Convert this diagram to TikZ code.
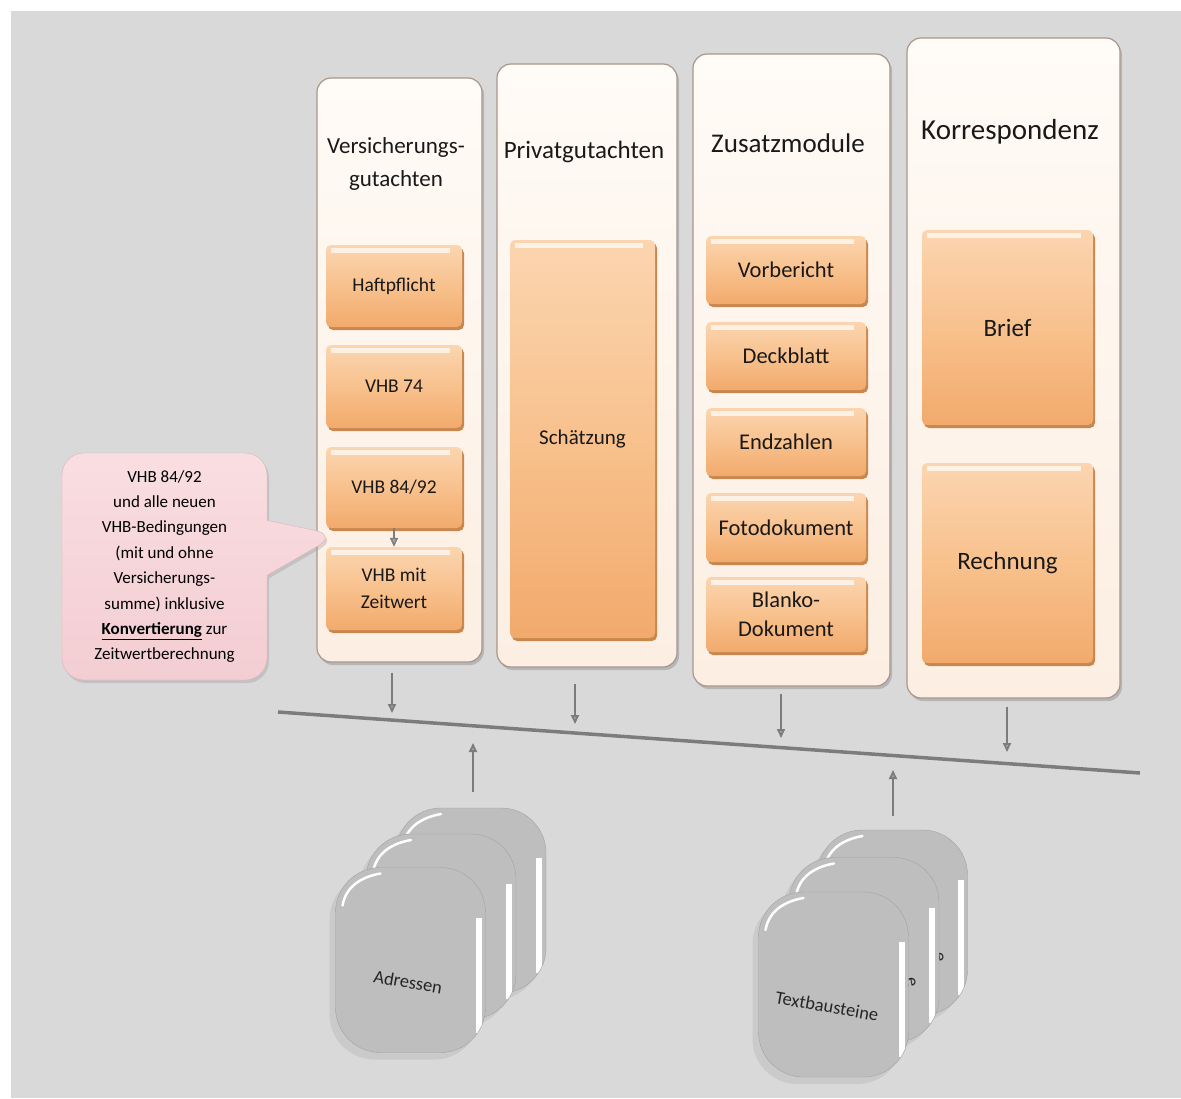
\documentclass[tikz,border=0pt]{standalone}
\usepackage{fontspec}
\setmainfont{Carlito}
\usetikzlibrary{shapes.callouts,shadows,arrows.meta}

\definecolor{bggray}{HTML}{D9D9D9}
\definecolor{paneltop}{HTML}{FFFBF6}
\definecolor{panelbot}{HTML}{FCEEE2}
\definecolor{panelline}{HTML}{A8968C}
\definecolor{boxtop}{HTML}{FBD5B0}
\definecolor{boxmid}{HTML}{F8C18D}
\definecolor{boxbot}{HTML}{F2AA6C}
\definecolor{boxshade}{HTML}{C8874F}
\definecolor{notetop}{HTML}{F9DEE1}
\definecolor{notebot}{HTML}{F3CDD2}
\definecolor{noteline}{HTML}{DDB4B9}
\definecolor{dbgray}{HTML}{BEBEBE}
\definecolor{arrowgray}{HTML}{7C7C7C}
\definecolor{arrowfill}{HTML}{A6A6A6}

\tikzset{
  panel/.style={draw=panelline, line width=1.2pt, rounded corners=14pt,
    top color=paneltop, bottom color=panelbot,
    drop shadow={shadow xshift=2pt, shadow yshift=-3pt, fill=black!45, opacity=.45}},
  head/.style={align=center, text=black!90},
  module/.style={rounded corners=5pt, top color=boxtop, bottom color=boxbot, middle color=boxmid,
    align=center, text=black!90,
    drop shadow={shadow xshift=2pt, shadow yshift=-3pt, fill=boxshade, opacity=1},
    path picture={\fill[white, opacity=.7, sharp corners] ([xshift=5pt,yshift=-3pt]path picture bounding box.north west)
      rectangle ([xshift=-12pt,yshift=-8pt]path picture bounding box.north east);}},
  note/.style={rectangle callout, rounded corners=22pt, minimum width=205pt, minimum height=227pt,
    top color=notetop, bottom color=notebot, draw=noteline, align=center,
    callout pointer width=55pt, font=\fontsize{17}{25.4}\selectfont,
    drop shadow={shadow xshift=2pt, shadow yshift=-3pt, fill=black!40, opacity=.35}},
  db/.style={minimum width=150pt, minimum height=185pt, rounded corners=45pt,
    fill=dbgray, draw=dbgray!80!black!90,
    drop shadow={shadow xshift=-6pt, shadow yshift=-7pt, fill=black!40, opacity=.22},
    path picture={
      \fill[white, sharp corners] ([xshift=-10pt,yshift=-50pt]path picture bounding box.north east)
        rectangle ([xshift=-4pt,yshift=20pt]path picture bounding box.south east);
      \draw[white, line width=2.5pt, line cap=round, sharp corners]
        ([xshift=7pt,yshift=-38pt]path picture bounding box.north west) to[out=80,in=190]
        ([xshift=45pt,yshift=-6pt]path picture bounding box.north west);}},
  dbtext/.style={font=\fontsize{18.5}{22}\selectfont, text=black!85, rotate=-10},
  flow/.style={draw=arrowgray, line width=1.8pt, -{Triangle[length=9pt, width=8pt, fill=arrowfill]}},
  bus/.style={draw=arrowgray, line width=3.5pt}
}

\begin{document}
\begin{tikzpicture}[x=1pt, y=-1pt]
\useasboundingbox (0,0) rectangle (1181,1098);
\fill[white] (0,0) rectangle (1181,1098);
\fill[bggray] (11,11) rectangle (1181,1098);

% columns
\node[panel, minimum width=165pt, minimum height=584pt] (vg) at (399.5,370) {};
\node[panel, minimum width=180pt, minimum height=603pt] (pg) at (587,365.5) {};
\node[panel, minimum width=197pt, minimum height=632pt] (zm) at (791.5,370) {};
\node[panel, minimum width=213pt, minimum height=660pt] (ko) at (1013.5,368) {};

\node[head, font=\fontsize{23}{33}\selectfont] (vgt) at (396,163.5) {Versicherungs-\\gutachten};
\node[head, font=\fontsize{25}{30}\selectfont] (pgt) at (584,152) {Privatgutachten};
\node[head, font=\fontsize{27}{32}\selectfont] (zmt) at (788,143) {Zusatzmodule};
\node[head, font=\fontsize{29}{34}\selectfont] (kot) at (1010,132) {Korrespondenz};

\begin{scope}[every node/.append style={module, minimum width=136pt, font=\fontsize{19.5}{27}\selectfont}]
  \node[minimum height=82pt] (haft) at (394,286) {Haftpflicht};
  \node[minimum height=83pt] (vhbs) at (394,386.5) {VHB 74};
  \node[minimum height=81pt] (vhbb) at (394,487.5) {VHB 84/92};
  \node[minimum height=83pt] (vhbz) at (394,588.5) {VHB mit\\Zeitwert};
\end{scope}

\node[module, minimum width=145pt, minimum height=398pt, font=\fontsize{21}{25}\selectfont] (sch) at (582.5,439) {Schätzung};

\begin{scope}[every node/.append style={module, minimum width=160pt, font=\fontsize{22.5}{29}\selectfont}]
  \node[minimum height=68pt] (vor) at (786,270) {Vorbericht};
  \node[minimum height=68pt] (deck) at (786,356) {Deckblatt};
  \node[minimum height=68pt] (endz) at (786,442) {Endzahlen};
  \node[minimum height=69pt] (foto) at (786,527.5) {Fotodokument};
  \node[minimum height=75pt] (blank) at (786,614.5) {Blanko-\\Dokument};
\end{scope}

\begin{scope}[every node/.append style={module, minimum width=171pt, font=\fontsize{25}{30}\selectfont}]
  \node[minimum height=195pt] (brief) at (1007.5,327.5) {Brief};
  \node[minimum height=200pt] (rech) at (1007.5,563) {Rechnung};
\end{scope}

\draw[flow, line width=1.4pt] (vhbb.south) -- (vhbz.north);

\node[note, callout absolute pointer={(337,535)}] (hint) at (164.5,566.5)
  {VHB 84/92\\und alle neuen\\VHB-Bedingungen\\(mit und ohne\\Versicherungs-\\summe) inklusive\\
   \underline{\textbf{Konvertierung}} zur\\Zeitwertberechnung};

% bus
\coordinate (busL) at (278,712);
\coordinate (busR) at (1140,773);
\draw[bus] (busL) -- (busR);

\coordinate (b1) at (392,713);
\coordinate (b2) at (575,724);
\coordinate (b3) at (781,738);
\coordinate (b4) at (1007,752);
\draw[flow, shorten <=10pt] (vg.south -| b1) -- (b1);
\draw[flow, shorten <=16pt] (pg.south -| b2) -- (b2);
\draw[flow, shorten <=7pt] (zm.south -| b3) -- (b3);
\draw[flow, shorten <=8pt] (ko.south -| b4) -- (b4);

% databases
\node[db] (adr3) at (471,900.5) {};
\node[db] (adr2) at (441,926.5) {};
\node[db] (adr1) at (410.5,960) {};
\node[dbtext] (adrl) at (408,982) {Adressen};

\node[db] (txt3) at (892.5,922.5) {};
\node[dbtext, rotate=-70] (txt3l) at (939,957) {e};
\node[db] (txt2) at (864,950) {};
\node[dbtext, rotate=-70] (txt2l) at (911,982) {e};
\node[db] (txt1) at (833.5,984.5) {};
\node[dbtext] (txt1l) at (827,1006) {Textbausteine};

\coordinate (u1) at (473,743);
\coordinate (u2) at (893,770);
\draw[flow, shorten <=16pt] (adr3.north -| u1) -- (u1);
\draw[flow, shorten <=14pt] (txt3.north -| u2) -- (u2);
\end{tikzpicture}
\end{document}
